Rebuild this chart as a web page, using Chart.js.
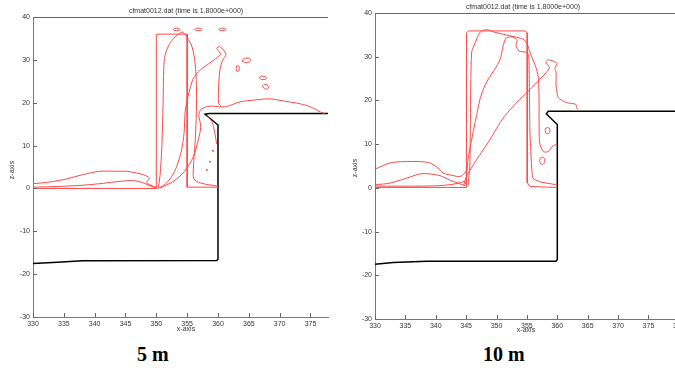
<!DOCTYPE html>
<html>
<head>
<meta charset="utf-8">
<script src="https://cdn.jsdelivr.net/npm/chart.js@4.4.0/dist/chart.umd.min.js"></script>
<style>
  html, body { margin: 0; padding: 0; background: #fff; overflow: hidden; width: 675px; height: 371px; }
  canvas { position: absolute; top: 0; }
  #left { left: 0; }
  #right { left: 340px; }
  .cap { position: absolute; font-family: "Liberation Serif", serif; font-weight: bold; font-size: 20px; color: #000; }
</style>
</head>
<body>
<canvas id="left" width="336" height="340"></canvas>
<canvas id="right" width="355" height="340"></canvas>
<div class="cap" style="left:137px; top:343px;">5 m</div>
<div class="cap" style="left:483px; top:343px;">10 m</div>
<script>
// tick labels
const xTicks = [330, 335, 340, 345, 350, 355, 360, 365, 370, 375, 380];
const yTicks = [-30, -20, -10, 0, 10, 20, 30, 40];
const plotTitle = 'cfmat0012.dat (time is 1.8000e+000)';

// ---- 5 m run (left panel) ----
const leftBed = [[330,-17.5],[334,-17.2],[338,-16.9],[359.8,-16.8],[360,-16.5],[360,14.8],[357.9,17.3],[358.6,17.5],[377.9,17.5]];
const leftRect = [[330,0],[350,0],[350,36],[355,36],[355,0.3],[360,0.3]];
const leftTongue = [[360,0.5],[357.1,1.3],[356.1,2.2],[356.0,4.5],[356.3,11],[356.5,18],[356.5,24],[356.3,29],[355.8,33],[355.0,35.2],[354.5,36.2],[354.2,36.5],[353.8,36.2],[353.0,35.3],[352.1,33.6],[351.4,31],[351.2,28],[351.1,20],[350.9,10],[350.6,3],[350.3,0]];
const leftHook = [[350.5,0.1],[351.6,1.2],[352.5,2.8],[353.3,5.1],[354.1,9],[354.5,12.9],[354.7,18.3],[355.2,21.8],[356.0,25.7],[357.1,27.6],[358.7,29.3],[360.4,31.3],[359.8,32.7],[360.3,33.1],[361.3,31.3],[360.7,29.8],[360.3,27.6],[360.1,23.7],[360.1,19.9],[360.6,19.0]];
const leftSurface = [[350.6,0.1],[352.7,1.6],[354.6,4],[356,7.4],[356.8,11.3],[357.2,14.4],[356.9,17.1],[357.3,18.5],[358.7,19.2],[360.6,19],[361.4,19.1],[363.6,20.2],[365.7,20.6],[368.4,20.9],[370.6,20.4],[372.8,19.9],[374.9,19.1],[376.8,17.7],[377.3,17.5]];
const leftWaveTop = [[330,1.1],[332.7,1.5],[335.4,2.2],[338,3.2],[340.8,4.0],[343.5,4.0],[345.2,4.0],[346.8,3.6],[347.9,3.2],[348.9,2.4],[348.4,1.4],[348.9,0.9],[350.2,0.1]];
const leftWaveLow = [[330,0.3],[333,0.4],[337.6,0.7],[340.8,1.1],[342,1.3],[345.2,1.8],[346.5,1.8],[347.9,1.3],[349,0.6],[350,0.1]];
const leftDrip = [[358.2,17.1],[359.0,15.6],[359.3,14.2],[359.6,12.0],[359.8,10.3]];
const leftDots = [[359.2,8.8],[358.7,6.2],[358.2,4.3]];
const leftBlobs = [
  [[352.75,37.1],[353.0,37.35],[353.6,37.35],[353.85,37.1],[353.6,36.85],[353.0,36.85],[352.75,37.1]],
  [[356.2,37.1],[356.5,37.35],[357.1,37.35],[357.4,37.1],[357.1,36.85],[356.5,36.85],[356.2,37.1]],
  [[360.1,37.1],[360.4,37.35],[361.0,37.35],[361.3,37.1],[361.0,36.85],[360.4,36.85],[360.1,37.1]],
  [[363.9,29.7],[364.2,30.3],[364.9,30.4],[365.3,30.1],[365.0,29.5],[364.3,29.4],[363.9,29.7]],
  [[362.95,28],[363.05,28.6],[363.35,28.6],[363.45,28],[363.35,27.4],[363.05,27.4],[362.95,28]],
  [[366.7,25.9],[367.0,26.2],[367.6,26.1],[367.9,25.7],[367.5,25.4],[366.9,25.5],[366.7,25.9]],
  [[367.2,23.9],[367.6,24.3],[368.2,23.7],[367.8,23.1],[367.2,23.9]]
];

// ---- 10 m run (right panel) ----
const rightBed = [[330,-17.5],[333,-17.1],[338.5,-16.8],[359.8,-16.8],[360,-16.4],[360,14.5],[358.2,16.9],[358.5,17.5],[382,17.5]];
const rightRect = [[330,0.1],[345,0.1],[345.05,35.4],[345.4,35.9],[354.7,35.9],[355.05,35.4],[355.05,1.2],[355.5,0.3],[360,0.1]];
const rightPeak = [[345.3,0.5],[345.6,5],[345.7,15.6],[345.9,31],[346.4,32.9],[347.3,35.6],[348.4,36.2],[349.7,35.6],[352.2,34.8],[354.4,34],[355.05,32.9],[355.5,31],[356.6,27.1],[356.9,24.8],[357.0,19.5],[357.0,15.6],[357.1,10.3],[357.7,8.3],[358.5,8.3],[359.2,9.5],[359.9,10]];
const rightInner = [[359.9,0.7],[357.1,1.4],[356.0,2.2],[355.8,4.1],[355.5,12.6],[355.4,23.3],[355.3,30.5],[354.95,31.0],[353.7,31.3],[353.2,32.5],[353.4,33.9],[352.5,34.6],[351.5,34.2],[351.1,32.5],[350.6,29.4],[349.7,27.1],[348.6,24.8],[347.8,22.5],[347.3,20.4],[346.7,16.5],[345.9,11.0],[345.3,6.4],[345.05,2.6],[344.9,0.8]];
const rightDiag = [[344.6,0.5],[345.0,2.5],[346.7,6.4],[348.9,11],[351.1,16],[353.3,19.5],[355.5,22.5],[357.1,24.8],[358.2,26.4],[358.7,27.5],[358.1,28.8],[358.5,29.3],[359.3,29.0],[359.95,28.5],[359.6,27.3],[359.8,26.4],[359.8,23.3],[360.2,20.6],[361.5,19.5],[363.05,19.1],[363.3,17.9]];
const rightWaveTop = [[330,4.3],[332.5,5.7],[334.7,6.0],[337.4,6.0],[339,5.7],[340.4,4.5],[341.2,3.4],[342.9,2.8],[344,2.6],[344.8,3.4],[345.2,4.5]];
const rightWaveMid = [[330,0.7],[332.5,1.1],[335.8,2.5],[337.4,3.2],[339,3.2],[340.7,2.8],[342.3,1.8],[344,0.9],[344.8,0.5]];
const rightWaveLow = [[330,0.4],[338,0.4],[341.5,0.6],[343.5,1.0],[344.7,1.5]];
const rightBlobs = [
  [[358.0,13.1],[358.15,13.7],[358.65,13.7],[358.8,13.1],[358.65,12.5],[358.15,12.5],[358.0,13.1]],
  [[357.1,6.2],[357.25,6.9],[357.75,6.9],[357.9,6.2],[357.75,5.5],[357.25,5.5],[357.1,6.2]]
];

const RED = 'rgb(255,72,72)';
const pts = arr => arr.map(p => ({x: p[0], y: p[1]}));

function redLine(arr, tension) {
  return { data: pts(arr), showLine: true, borderColor: RED, borderWidth: 1, pointRadius: 0, tension: tension };
}
function blackLine(arr) {
  return { data: pts(arr), showLine: true, borderColor: '#000', borderWidth: 1.5, pointRadius: 0, tension: 0 };
}

// frame, inward ticks and small texts, MATLAB style
const framePlugin = {
  id: 'frame',
  afterDraw(chart, args, o) {
    const { ctx, chartArea: a, scales: { x, y } } = chart;
    ctx.save();
    ctx.strokeStyle = '#666';
    ctx.lineWidth = 1;
    ctx.beginPath();
    ctx.moveTo(a.left, a.top + 0.5); ctx.lineTo(a.right, a.top + 0.5);
    x.ticks.forEach(t => {
      const px = Math.round(x.getPixelForValue(t.value)) + 0.5;
      ctx.moveTo(px, a.bottom); ctx.lineTo(px, a.bottom - 4);
    });
    y.ticks.forEach(t => {
      const py = Math.round(y.getPixelForValue(t.value)) + 0.5;
      ctx.moveTo(a.left, py); ctx.lineTo(a.left + 4, py);
    });
    ctx.stroke();
    ctx.fillStyle = '#333';
    ctx.font = '7px "Liberation Sans", Arial, sans-serif';
    ctx.textAlign = 'center';
    ctx.textBaseline = 'middle';
    ctx.fillText(plotTitle, o.titleX, o.titleY);
    ctx.fillText('x-axis', o.xlabX, o.xlabY);
    ctx.translate(o.zlabX, o.zlabY);
    ctx.rotate(-Math.PI / 2);
    ctx.fillText('z-axis', 0, 0);
    ctx.restore();
  }
};

function makeChart(id, datasets, xMax, yWidth, xHeight, pad, labels) {
  new Chart(document.getElementById(id), {
    type: 'scatter',
    data: { datasets: datasets },
    plugins: [framePlugin],
    options: {
      responsive: false,
      animation: false,
      devicePixelRatio: 1,
      layout: { padding: pad },
      plugins: { legend: { display: false }, tooltip: { enabled: false }, frame: labels },
      scales: {
        x: {
          type: 'linear', min: 330, max: xMax,
          afterBuildTicks: s => { s.ticks = xTicks.filter(v => v <= s.max).map(v => ({ value: v })); },
          afterFit: s => { s.height = xHeight; },
          grid: { display: false, drawTicks: false },
          border: { display: true, color: '#777', width: 1 },
          ticks: { padding: 3, maxRotation: 0, autoSkip: false, color: '#333', font: { size: 7, family: 'Liberation Sans' } }
        },
        y: {
          type: 'linear', min: -30, max: 40,
          afterBuildTicks: s => { s.ticks = yTicks.map(v => ({ value: v })); },
          afterFit: s => { s.width = yWidth; },
          grid: { display: false, drawTicks: false },
          border: { display: true, color: '#777', width: 1 },
          ticks: { padding: 3, color: '#333', font: { size: 7, family: 'Liberation Sans' } }
        }
      }
    }
  });
}

const leftSets = [
  redLine(leftRect, 0), redLine(leftTongue, 0.3), redLine(leftHook, 0.25), redLine(leftSurface, 0.3),
  redLine(leftWaveTop, 0.3), redLine(leftWaveLow, 0.3), redLine(leftDrip, 0.2),
  ...leftBlobs.map(b => redLine(b, 0.4)),
  { data: pts(leftDots), showLine: false, pointRadius: 1, backgroundColor: RED, borderWidth: 0 },
  blackLine(leftBed)
];
const rightSets = [
  redLine(rightRect, 0), redLine(rightPeak, 0.25), redLine(rightInner, 0.15), redLine(rightDiag, 0.2),
  redLine(rightWaveTop, 0.3), redLine(rightWaveMid, 0.3), redLine(rightWaveLow, 0.3),
  ...rightBlobs.map(b => redLine(b, 0.4)),
  blackLine(rightBed)
];

makeChart('left', leftSets, 377.84, 33, 23, { top: 17, right: 8, left: 0, bottom: 0 },
  { titleX: 186, titleY: 11, xlabX: 186, xlabY: 329, zlabX: 12, zlabY: 170 });
makeChart('right', rightSets, 382, 35, 21, { top: 13, right: 4, left: 0, bottom: 0 },
  { titleX: 183, titleY: 7, xlabX: 186, xlabY: 330, zlabX: 15, zlabY: 168 });
</script>
</body>
</html>
